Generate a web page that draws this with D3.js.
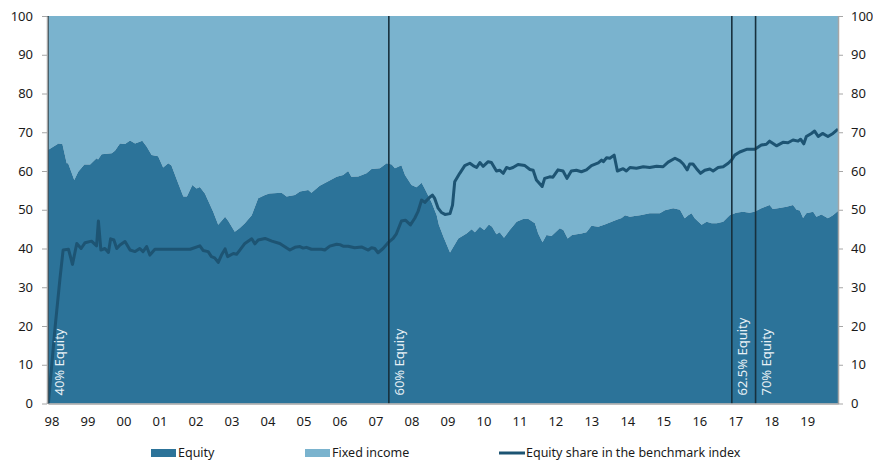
<!DOCTYPE html>
<html>
<head>
<meta charset="utf-8">
<script src="https://cdn.jsdelivr.net/npm/d3@7"></script>
<style>
  html, body { margin: 0; padding: 0; background: #fff; }
  svg { display: block; font-family: "Noto Sans", "Open Sans", sans-serif; }
</style>
</head>
<body>
<div id="chart"></div>
<script>
// equity share of the fund (decimal year / percent)
const equityYears = [1998.00, 1998.29, 1998.40, 1998.52, 1998.56, 1998.73, 1998.84, 1999.01, 1999.17, 1999.35, 1999.39, 1999.49, 1999.77, 1999.86,
  2000.00, 2000.14, 2000.28, 2000.42, 2000.62, 2000.74, 2000.88, 2001.06, 2001.20, 2001.34, 2001.43, 2001.62, 2001.76, 2001.86,
  2002.01, 2002.13, 2002.22, 2002.36, 2002.59, 2002.73, 2002.92, 2003.01, 2003.19, 2003.33, 2003.47, 2003.66, 2003.84,
  2004.03, 2004.15, 2004.49, 2004.63, 2004.86, 2005.00, 2005.23, 2005.32, 2005.55, 2005.76, 2006.02, 2006.20, 2006.34, 2006.43,
  2006.62, 2006.85, 2006.99, 2007.22, 2007.41, 2007.55, 2007.64, 2007.82, 2007.92, 2008.10, 2008.24, 2008.38, 2008.47, 2008.66,
  2008.80, 2008.86, 2008.99, 2009.17, 2009.40, 2009.63, 2009.77, 2009.86, 2010.00, 2010.12, 2010.25, 2010.34, 2010.46, 2010.55,
  2010.67, 2010.83, 2011.02, 2011.20, 2011.34, 2011.53, 2011.62, 2011.74, 2011.85, 2011.99, 2012.22, 2012.32, 2012.44, 2012.56,
  2012.82, 2012.96, 2013.10, 2013.29, 2013.47, 2013.61, 2013.80, 2013.94, 2014.03, 2014.17, 2014.30, 2014.45, 2014.72, 2015.00,
  2015.14, 2015.37, 2015.56, 2015.69, 2015.79, 2015.88, 2015.97, 2016.16, 2016.30, 2016.44, 2016.58, 2016.76, 2016.94, 2017.12,
  2017.31, 2017.49, 2017.63, 2017.82, 2018.05, 2018.14, 2018.28, 2018.52, 2018.70, 2018.80, 2018.89, 2018.98, 2019.07, 2019.26,
  2019.35, 2019.49, 2019.67, 2019.81, 2019.95];
const equityValues = [65.4, 67.1, 67.0, 62.0, 62.0, 57.7, 59.8, 61.7, 61.7, 63.3, 63.0, 64.3, 64.6, 65.2,
  67.1, 67.0, 67.9, 67.1, 67.8, 66.3, 64.1, 63.8, 60.9, 62.0, 61.4, 56.8, 53.4, 53.4,
  56.4, 55.5, 55.9, 54.2, 49.5, 46.1, 48.2, 47.1, 44.3, 45.3, 46.5, 48.6, 53.0,
  53.8, 54.2, 54.4, 53.4, 53.8, 54.7, 55.1, 54.4, 56.2, 57.2, 58.5, 59.0, 60.0, 58.5,
  58.6, 59.4, 60.5, 60.7, 62.0, 61.7, 60.7, 61.5, 59.0, 56.4, 55.8, 57.0, 55.4, 51.9,
  48.6, 46.1, 43.0, 39.0, 42.6, 43.9, 45.0, 44.2, 45.6, 44.8, 46.2, 45.6, 43.7, 44.2,
  42.8, 44.8, 46.9, 47.6, 47.7, 46.5, 43.9, 41.6, 43.5, 43.2, 45.2, 44.8, 42.6, 43.5,
  43.9, 44.2, 45.9, 45.6, 46.2, 46.7, 47.4, 47.9, 48.6, 48.2, 48.4, 48.6, 49.1, 49.1,
  49.9, 50.4, 50.0, 47.8, 48.6, 49.1, 47.8, 46.1, 46.9, 46.5, 46.5, 46.9, 48.6, 49.2,
  49.5, 49.2, 49.5, 50.4, 51.2, 50.2, 50.4, 50.8, 51.2, 50.0, 49.8, 47.9, 49.1, 49.5,
  48.2, 48.8, 47.8, 48.6, 49.7];

// equity share in the benchmark index
const indexYears = [1998.01, 1998.19, 1998.33, 1998.42, 1998.57, 1998.68, 1998.80, 1998.92, 1999.03, 1999.21, 1999.35, 1999.40,
  1999.47, 1999.58, 1999.68, 1999.74, 1999.83, 1999.91, 2000.00, 2000.14, 2000.28, 2000.42, 2000.55, 2000.64, 2000.74, 2000.83,
  2000.97, 2001.95, 2002.22, 2002.31, 2002.45, 2002.54, 2002.63, 2002.73, 2002.82, 2002.92, 2002.99, 2003.15, 2003.24, 2003.33,
  2003.47, 2003.66, 2003.75, 2003.84, 2004.03, 2004.22, 2004.44, 2004.72, 2004.86, 2005.00, 2005.09, 2005.18, 2005.32, 2005.60,
  2005.69, 2005.83, 2006.02, 2006.11, 2006.20, 2006.34, 2006.52, 2006.71, 2006.90, 2006.99, 2007.08, 2007.17, 2007.31, 2007.45,
  2007.59, 2007.68, 2007.82, 2007.93, 2008.07, 2008.19, 2008.28, 2008.38, 2008.47, 2008.59, 2008.68, 2008.74, 2008.84, 2008.93,
  2009.03, 2009.17, 2009.24, 2009.30, 2009.44, 2009.58, 2009.72, 2009.81, 2009.91, 2010.00, 2010.09, 2010.23, 2010.32, 2010.46,
  2010.55, 2010.65, 2010.74, 2010.83, 2010.92, 2011.06, 2011.25, 2011.39, 2011.48, 2011.57, 2011.73, 2011.80, 2011.94, 2012.03,
  2012.17, 2012.31, 2012.42, 2012.54, 2012.68, 2012.82, 2012.96, 2013.10, 2013.29, 2013.38, 2013.43, 2013.52, 2013.61, 2013.73,
  2013.82, 2013.98, 2014.07, 2014.17, 2014.35, 2014.54, 2014.72, 2014.91, 2015.09, 2015.23, 2015.42, 2015.56, 2015.65, 2015.76,
  2015.83, 2015.92, 2016.02, 2016.13, 2016.25, 2016.39, 2016.48, 2016.62, 2016.76, 2016.90, 2016.99, 2017.08, 2017.22, 2017.41,
  2017.64, 2017.82, 2017.96, 2018.05, 2018.24, 2018.42, 2018.56, 2018.70, 2018.84, 2018.91, 2019.00, 2019.07, 2019.21, 2019.30,
  2019.40, 2019.52, 2019.67, 2019.81, 2019.95];
const indexValues = [0, 19, 32, 39.6, 39.8, 35.9, 41.3, 40.0, 41.5, 41.9, 40.7, 47.1,
  39.6, 40.0, 39.0, 42.5, 42.2, 40.0, 40.9, 41.8, 39.6, 39.2, 40.0, 39.2, 40.5, 38.3,
  39.8, 39.8, 40.7, 39.5, 39.2, 37.9, 37.6, 36.4, 38.3, 39.9, 37.9, 38.7, 38.5, 39.6,
  41.3, 42.5, 41.2, 42.2, 42.6, 41.9, 41.3, 39.6, 40.3, 40.5, 40.1, 40.3, 39.8, 39.8,
  39.6, 40.6, 41.1, 41.0, 40.6, 40.6, 40.2, 40.4, 39.6, 40.2, 40.0, 38.9, 40.0, 41.5,
  42.6, 43.8, 47.1, 47.3, 46.1, 47.8, 49.5, 52.5, 51.9, 53.1, 53.8, 53.0, 50.4, 49.3,
  48.8, 49.0, 51.2, 57.2, 59.4, 61.4, 62.0, 61.4, 60.9, 62.2, 61.2, 62.4, 62.2, 60.0,
  60.2, 59.4, 60.9, 60.6, 60.9, 61.7, 61.4, 60.4, 60.2, 57.7, 56.0, 58.1, 58.5, 58.4,
  60.3, 60.0, 58.1, 60.0, 60.2, 59.8, 60.3, 61.4, 62.1, 62.8, 62.4, 63.4, 63.3, 64.1,
  60.0, 60.6, 60.0, 60.9, 60.7, 61.1, 60.9, 61.2, 61.1, 62.3, 63.3, 62.6, 61.8, 60.3,
  61.8, 61.8, 60.6, 59.4, 60.2, 60.5, 60.0, 60.9, 61.1, 62.0, 62.8, 64.1, 64.9, 65.6,
  65.6, 66.7, 66.9, 67.7, 66.5, 67.4, 67.3, 68.0, 67.7, 68.2, 67.0, 68.9, 69.7, 70.3,
  68.9, 69.7, 68.9, 69.7, 70.8];

// benchmark changes
const changeYears = [1998.0, 2007.47, 2017.0, 2017.66];
const changeLabels = ["40% Equity", "60% Equity", "62.5% Equity", "70% Equity"];

const yearTicks = d3.range(1998, 2020);
const valueTicks = d3.range(0, 101, 10);

(() => {
  const width = 873, height = 463, margin = { top: 16, right: 35, bottom: 59.5, left: 48 };
  const colEquity = "#2c7399", colFixed = "#7ab3ce", colLine = "#1d5473", colRule = "#17303d";

  const equity = equityYears.map((t, i) => ({ t, v: equityValues[i] }));
  const index = indexYears.map((t, i) => ({ t, v: indexValues[i] }));

  const svg = d3.select("#chart").append("svg")
    .attr("width", width)
    .attr("height", height);

  const x = d3.scaleLinear()
    .domain([1998, 2019.95])
    .range([margin.left, width - margin.right]);

  const y = d3.scaleLinear()
    .domain([0, 100])
    .range([height - margin.bottom, margin.top]);

  // fixed income fills from equity share up to 100
  svg.append("path")
    .datum(equity)
    .attr("fill", colFixed)
    .attr("d", d3.area().x(d => x(d.t)).y0(y(100)).y1(d => y(d.v)));

  svg.append("path")
    .datum(equity)
    .attr("fill", colEquity)
    .attr("d", d3.area().x(d => x(d.t)).y0(y(0)).y1(d => y(d.v)));

  svg.append("path")
    .datum(index)
    .attr("fill", "none")
    .attr("stroke", colLine)
    .attr("stroke-width", 3)
    .attr("stroke-linejoin", "round")
    .attr("d", d3.line().x(d => x(d.t)).y(d => y(d.v)));

  // vertical rules with rotated labels
  changeYears.forEach((t, i) => {
    svg.append("line")
      .attr("x1", x(t)).attr("x2", x(t))
      .attr("y1", y(100)).attr("y2", y(0))
      .attr("stroke", colRule)
      .attr("stroke-width", 1.6);
    svg.append("text")
      .attr("transform", `translate(${x(t) + 15.5},${y(0) - 8}) rotate(-90)`)
      .attr("fill", "#e8f1f6")
      .style("font-size", "13px")
      .text(changeLabels[i]);
  });

  const styleAxis = g => {
    g.selectAll(".domain").attr("stroke", "#a6a6a6").attr("stroke-width", 1.5);
    g.selectAll(".tick line").attr("stroke", "#a6a6a6");
    g.selectAll("text").attr("fill", "#1a1a1a").style("font-size", "13px");
    g.attr("font-family", null);
  };

  svg.append("g")
    .attr("transform", `translate(${margin.left - 1},0)`)
    .call(d3.axisLeft(y).tickValues(valueTicks).tickSize(5).tickPadding(9).tickSizeOuter(0))
    .call(styleAxis);

  svg.append("g")
    .attr("transform", `translate(${width - margin.right},0)`)
    .call(d3.axisRight(y).tickValues(valueTicks).tickSize(5).tickPadding(8).tickSizeOuter(0))
    .call(styleAxis);

  svg.append("g")
    .attr("transform", `translate(0,${y(0)})`)
    .call(d3.axisBottom(x).tickValues(yearTicks).tickSize(0).tickPadding(13).tickSizeOuter(0)
      .tickFormat(d => String(d).slice(2)))
    .call(styleAxis)
    .call(g => g.selectAll("text").attr("dx", 3.5));

  // legend
  const legend = svg.append("g").style("font-size", "12.5px");
  const items = [
    { label: "Equity", x: 151, type: "rect", color: colEquity },
    { label: "Fixed income", x: 305, type: "rect", color: colFixed },
    { label: "Equity share in the benchmark index", x: 499, type: "line", color: colLine }
  ];
  items.forEach(it => {
    if (it.type === "rect") {
      legend.append("rect")
        .attr("x", it.x).attr("y", 449)
        .attr("width", 25).attr("height", 8)
        .attr("fill", it.color);
    } else {
      legend.append("line")
        .attr("x1", it.x).attr("x2", it.x + 26)
        .attr("y1", 453).attr("y2", 453)
        .attr("stroke", it.color).attr("stroke-width", 3);
    }
    legend.append("text")
      .attr("x", it.x + 27)
      .attr("y", 453)
      .attr("dy", "0.35em")
      .attr("fill", "#1a1a1a")
      .text(it.label);
  });
})();
</script>
</body>
</html>
